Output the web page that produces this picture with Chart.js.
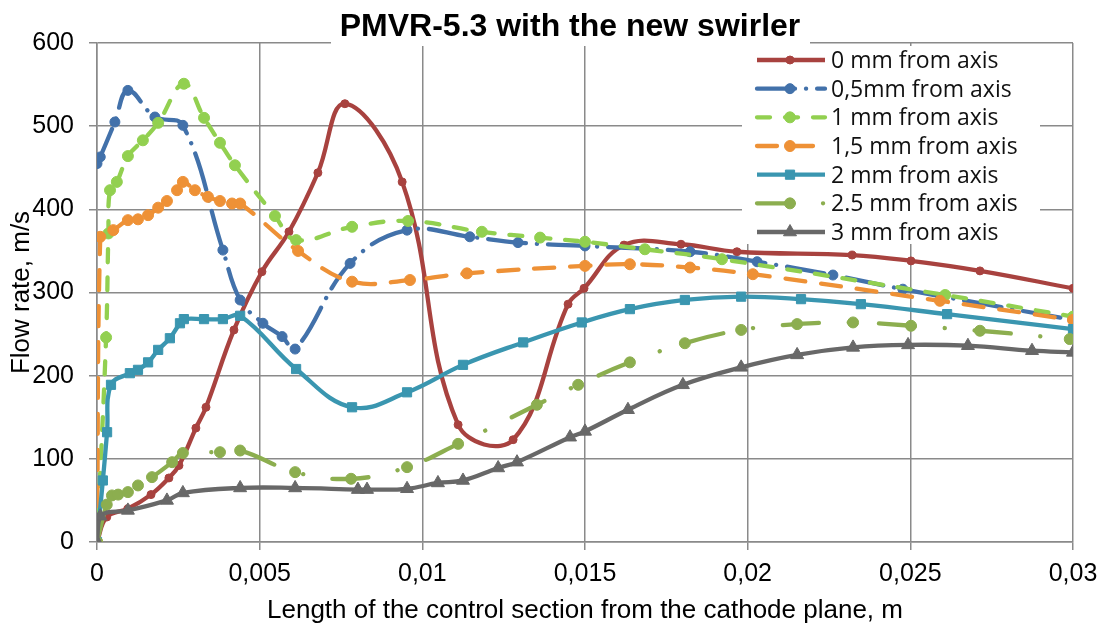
<!DOCTYPE html>
<html><head><meta charset="utf-8">
<script src="https://cdn.jsdelivr.net/npm/chart.js@4/dist/chart.umd.min.js"></script>
<style>html,body{margin:0;padding:0;background:#fff;}#wrap{width:1103px;height:626px;}</style>
</head><body><div id="wrap"><canvas id="c" width="1103" height="626"></canvas></div>
<script>
const chartTitle = 'PMVR-5.3 with the new swirler';
const xAxisTitle = 'Length of the control section from the cathode plane, m';
const yAxisTitle = 'Flow rate, m/s';
const seriesLabels = ['0 mm from axis','0,5mm from axis','1 mm from axis','1,5 mm from axis','2 mm from axis','2.5 mm from axis','3 mm from axis'];
const xTickLabels = ['0','0,005','0,01','0,015','0,02','0,025','0,03'];
const yTickLabels = ['0','100','200','300','400','500','600'];

const x0 = [0,0.0003,0.00095,0.00166,0.00221,0.00252,0.00304,0.00335,0.00421,0.00507,0.0059,0.00679,0.00762,0.00938,0.0111,0.01279,0.01448,0.01497,0.0162,0.01795,0.01967,0.02321,0.02502,0.02714,0.03];
const y0 = [0,30,40,57,77,92,137,162,255,325,373,444,527,433,141,123,286,305,357,358,349,345,338,326,305];

const x05 = [0,0.0001,0.00055,0.00095,0.00178,0.00264,0.00387,0.0044,0.0051,0.00569,0.00609,0.00778,0.00953,0.01146,0.01294,0.015,0.01823,0.02029,0.02262,0.02477,0.03];
const y05 = [455,463,505,543,511,501,351,291,263,247,232,335,375,367,360,356,349,337,321,304,267];

const x1 = [0,0.00028,0.00035,0.0004,0.00061,0.00095,0.00141,0.00188,0.00267,0.00329,0.00378,0.00424,0.00547,0.00612,0.00784,0.00956,0.01183,0.01362,0.015,0.01684,0.01921,0.02607,0.03];
const y1 = [0,246,371,423,433,464,483,504,551,510,480,453,392,363,379,386,373,366,361,352,340,297,271];

const x15 = [0,0.0001,0.0005,0.00095,0.00126,0.00157,0.00188,0.00215,0.00246,0.00264,0.00301,0.00341,0.00378,0.00415,0.0044,0.00618,0.00784,0.00962,0.01137,0.015,0.01638,0.01823,0.02016,0.02591,0.03];
const y15 = [0,367,375,387,388,393,402,410,423,433,423,415,410,407,407,350,313,315,323,332,334,330,322,290,267];

const x2 = [0,0.00018,0.00031,0.00043,0.00101,0.00126,0.00157,0.00188,0.00224,0.00255,0.00267,0.00329,0.00387,0.0044,0.00612,0.00784,0.00953,0.01125,0.0131,0.0149,0.01638,0.01807,0.0198,0.02164,0.02348,0.02613,0.03];
const y2 = [0,74,132,189,203,207,216,231,245,263,268,268,268,272,208,162,180,213,240,264,280,291,295,292,286,274,256];

const x25 = [0,0.0003,0.00046,0.00065,0.00095,0.00126,0.00169,0.00231,0.00264,0.00378,0.0044,0.00609,0.00781,0.00953,0.0111,0.01352,0.01479,0.01638,0.01807,0.0198,0.02152,0.02324,0.02502,0.02714,0.0299];
const y25 = [0,45,56,57,60,68,78,96,107,108,110,84,76,90,118,165,189,216,239,255,262,264,260,254,244];

const x3 = [0,0.0001,0.00095,0.00215,0.00264,0.0044,0.00609,0.00802,0.0083,0.00953,0.01048,0.01125,0.01233,0.01291,0.01454,0.015,0.01632,0.01801,0.0198,0.02152,0.02324,0.02493,0.02677,0.02874,0.03];
const y3 = [0,31,38,50,59,65,65,63,63,64,71,74,89,96,126,133,159,189,210,225,234,237,236,230,228];

const seriesX = [x0,x05,x1,x15,x2,x25,x3];
const seriesY = [y0,y05,y1,y15,y2,y25,y3];
const colors = ['#A8423F','#4271AA','#92D050','#EE9136','#3A96B0','#8CAE4F','#686868'];
const dashes = [[],[38,11,0.1,11],[13,15],[20,16],[],[36,30,0.1,30],[]];
const pStyles = ['circle','circle','circle','circle','rect','circle','triangle'];
const pRadius = [4,5,5.5,5.5,6.5,5.5,7.5];

const datasets = seriesLabels.map((lab,i)=>({
  label: lab,
  data: seriesX[i].map((x,j)=>({x:x,y:seriesY[i][j]})),
  borderColor: colors[i],
  backgroundColor: colors[i],
  pointBackgroundColor: colors[i],
  pointBorderColor: colors[i],
  pointBorderWidth: 1,
  pointStyle: pStyles[i],
  pointRadius: pRadius[i],
  borderWidth: 4.3,
  borderDash: dashes[i],
  borderCapStyle: dashes[i].length ? 'round' : 'butt',
  borderJoinStyle: 'round',
  tension: 0.4,
  fill: false,
  order: 6 - i
}));

const decor = {
  id: 'decor',
  afterDraw(chart) {
    const ctx = chart.ctx;
    ctx.save();
    ctx.fillStyle = '#fff';
    ctx.fillRect(331, 0, 479, 46);
    ctx.fillStyle = '#000';
    ctx.font = 'bold 32px "Liberation Sans", Arial, sans-serif';
    ctx.textAlign = 'center';
    ctx.textBaseline = 'alphabetic';
    ctx.fillText(chartTitle, 570, 36);
    ctx.fillStyle = '#fff';
    ctx.fillRect(742, 46, 298, 198);
    ctx.font = '23px "Open Sans", Lato, sans-serif';
    ctx.textAlign = 'left';
    for (let i = 0; i < seriesLabels.length; i++) {
      const cy = 60 + i * 28.67;
      ctx.save();
      ctx.strokeStyle = colors[i];
      ctx.lineWidth = 4.3;
      ctx.lineCap = dashes[i].length ? 'round' : 'butt';
      ctx.setLineDash(dashes[i]);
      ctx.beginPath();
      ctx.moveTo(757, cy); ctx.lineTo(825, cy);
      ctx.stroke();
      ctx.setLineDash([]);
      ctx.fillStyle = colors[i];
      ctx.lineWidth = 1;
      Chart.helpers.drawPoint(ctx, {pointStyle: pStyles[i], radius: pRadius[i], rotation: 0, borderWidth: 1}, 790, cy);
      ctx.restore();
      ctx.fillStyle = '#111';
      ctx.fillText(seriesLabels[i], 831, cy + 8);
    }
    ctx.restore();
  }
};

const gridColor = '#8a8a8a';
new Chart(document.getElementById('c'), {
  type: 'line',
  data: { datasets },
  options: {
    responsive: false,
    animation: false,
    devicePixelRatio: 1,
    layout: { padding: { top: 43, right: 30, left: 0, bottom: 0 } },
    plugins: { legend: { display: false }, title: { display: false }, tooltip: { enabled: false } },
    scales: {
      x: {
        type: 'linear', min: 0, max: 0.03,
        afterFit: s => { s.height = 84; s.paddingLeft = 0; s.paddingRight = 0; },
        ticks: {
          stepSize: 0.005, autoSkip: false, maxRotation: 0, padding: 9, color: '#000',
          font: { family: '"Liberation Sans", Arial, sans-serif', size: 25 },
          callback: v => xTickLabels[Math.round(v / 0.005)]
        },
        grid: { color: gridColor, lineWidth: 1.5, tickLength: 8 },
        border: { color: gridColor, width: 1.5 },
        title: { display: true, text: xAxisTitle, color: '#000', padding: { top: 0, bottom: 0 },
          font: { family: '"Liberation Sans", Arial, sans-serif', size: 26 } }
      },
      y: {
        min: 0, max: 600,
        afterFit: s => { s.width = 97; s.paddingTop = 0; s.paddingBottom = 0; },
        ticks: {
          stepSize: 100, padding: 15, color: '#000',
          font: { family: '"Liberation Sans", Arial, sans-serif', size: 25 },
          callback: v => yTickLabels[Math.round(v / 100)]
        },
        grid: { color: gridColor, lineWidth: 1.5, tickLength: 8 },
        border: { color: gridColor, width: 1.5 },
        title: { display: true, text: yAxisTitle, color: '#000', padding: { top: 6, bottom: 0 },
          font: { family: '"Liberation Sans", Arial, sans-serif', size: 26 } }
      }
    }
  },
  plugins: [decor]
});
</script></body></html>
